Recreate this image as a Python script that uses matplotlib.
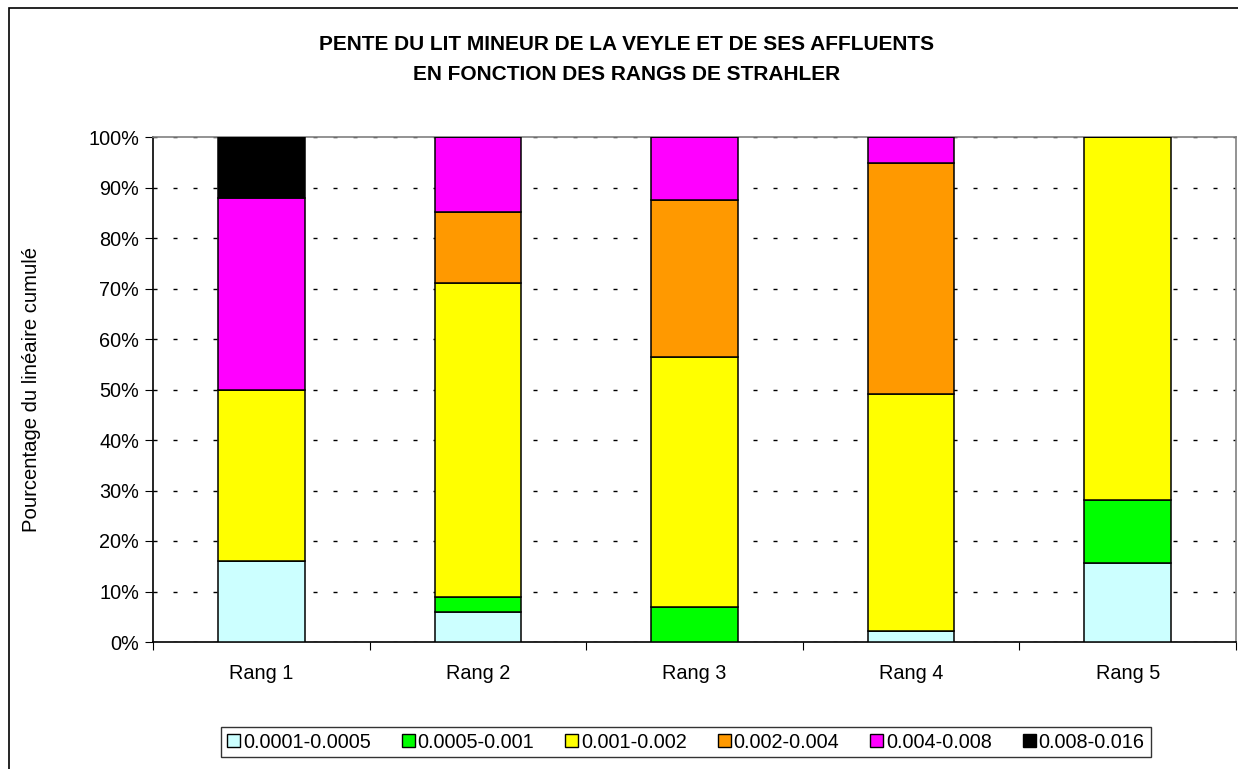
import matplotlib
matplotlib.use("Agg")
import matplotlib.pyplot as plt
import numpy as np
from matplotlib.patches import Rectangle, Patch

plt.rcParams['font.family'] = ['Liberation Sans', 'DejaVu Sans']

categories = ["Rang 1", "Rang 2", "Rang 3", "Rang 4", "Rang 5"]
classes = ["0.0001-0.0005", "0.0005-0.001", "0.001-0.002", "0.002-0.004", "0.004-0.008", "0.008-0.016"]
colors = ["#CCFFFF", "#00FF00", "#FFFF00", "#FF9900", "#FF00FF", "#000000"]

s_0001_0005 = [16.0, 5.9, 0.0, 2.2, 15.7]
s_0005_001 = [0.0, 3.0, 6.9, 0.0, 12.4]
s_001_002 = [34.0, 62.2, 49.6, 46.9, 71.9]
s_002_004 = [0.0, 14.0, 31.1, 45.7, 0.0]
s_004_008 = [38.0, 14.9, 12.4, 5.2, 0.0]
s_008_016 = [12.0, 0.0, 0.0, 0.0, 0.0]
series = [s_0001_0005, s_0005_001, s_001_002, s_002_004, s_004_008, s_008_016]

W, H = 1238, 769
fig = plt.figure(figsize=(W / 100, H / 100), dpi=100)
fig.patch.set_facecolor("white")

# outer chart frame
fig.patches.append(Rectangle((9 / W, -0.05), 1.2, (H - 8) / H + 0.05, transform=fig.transFigure,
                             fill=False, edgecolor="black", linewidth=1.2, zorder=0))

ax = fig.add_axes([153 / W, (H - 642) / H, (1236 - 153) / W, (642 - 137) / H])

x = np.arange(len(categories))
bottom = np.zeros(len(categories))
for vals, col in zip(series, colors):
    v = np.array(vals)
    ax.bar(x, v, width=0.40, bottom=bottom, color=col, edgecolor="black", linewidth=1.1, zorder=3)
    bottom += v

ax.set_xlim(-0.5, len(categories) - 0.5)
ax.set_ylim(0, 100)
ax.set_yticks(np.arange(0, 101, 10))
ax.set_yticklabels([f"{t}%" for t in range(0, 101, 10)], fontsize=14.3)
ax.yaxis.grid(True, color="black", linestyle=(0, (2.9, 11.5)), linewidth=1.0, zorder=1)

ax.set_xticks(np.arange(-0.5, len(categories), 1.0))
ax.set_xticklabels([])
ax.set_xticks(x, minor=True)
ax.set_xticklabels(categories, minor=True, fontsize=14.3)
ax.tick_params(axis="x", which="minor", length=0, pad=16)
ax.tick_params(axis="x", which="major", length=6, direction="out", color="black")
ax.tick_params(axis="y", length=6, direction="out", pad=4)

for s in ["top", "right"]:
    ax.spines[s].set_color("#808080")
    ax.spines[s].set_linewidth(1.2)
for s in ["left", "bottom"]:
    ax.spines[s].set_color("black")
    ax.spines[s].set_linewidth(1.2)

ax.set_ylabel("Pourcentage du linéaire cumulé", fontsize=14.6)
ax.yaxis.set_label_coords((41 - 153) / (1236 - 153), 0.5)

fig.text(627 / W, 1 - 45 / H, "PENTE DU LIT MINEUR DE LA VEYLE ET DE SES AFFLUENTS",
         ha="center", va="center", fontsize=15, fontweight="bold")
fig.text(627 / W, 1 - 74 / H, "EN FONCTION DES RANGS DE STRAHLER",
         ha="center", va="center", fontsize=15, fontweight="bold")

handles = [Patch(facecolor=c, edgecolor="black", linewidth=1.0) for c in colors]
leg = fig.legend(handles, classes, loc="center", bbox_to_anchor=(686 / W, 1 - 742 / H),
                 ncol=6, fontsize=14.3, frameon=True, fancybox=False, handlelength=0.65,
                 handleheight=0.65, handletextpad=0.15, columnspacing=1.55, borderpad=0.3,
                 borderaxespad=0)
leg.get_frame().set_edgecolor("black")
leg.get_frame().set_linewidth(1.0)

fig.savefig("out.png", dpi=100)
